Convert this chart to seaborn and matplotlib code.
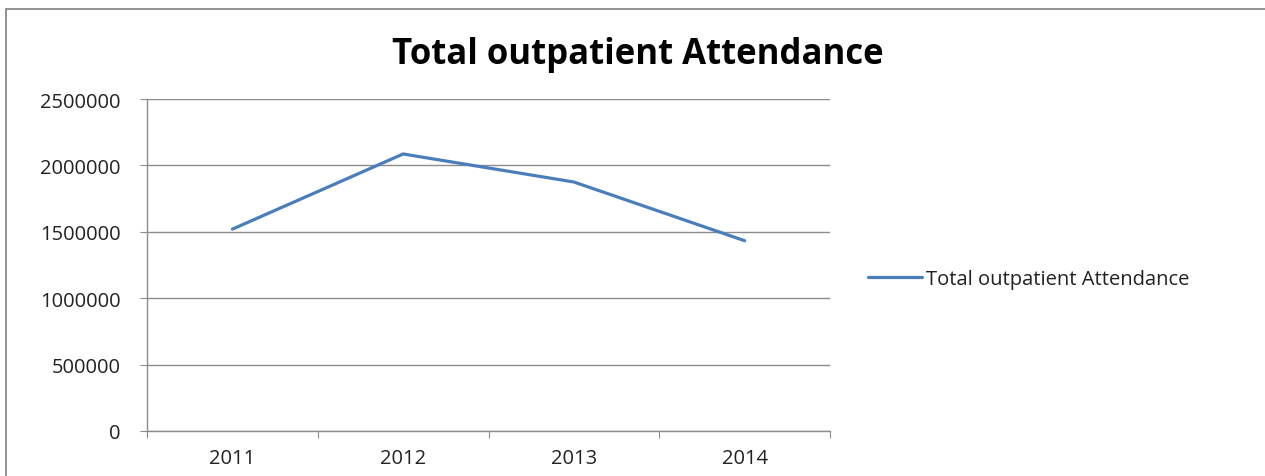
import matplotlib.pyplot as plt
import seaborn as sns
import pandas as pd
from matplotlib.patches import Rectangle

years = ['2011', '2012', '2013', '2014']
attendance = [1520000, 2086000, 1875000, 1433000]
yticks = [0, 500000, 1000000, 1500000, 2000000, 2500000]
series_name = 'Total outpatient Attendance'

df = pd.DataFrame({'year': years, 'value': attendance})

sns.set_style('white')
plt.rcParams['font.family'] = ['Open Sans', 'DejaVu Sans']

fig = plt.figure(figsize=(12.65, 4.77), dpi=100)
ax = fig.add_axes([147 / 1265, 1 - 432 / 477, (830 - 147) / 1265, (432 - 100) / 477])

sns.lineplot(data=df, x='year', y='value', ax=ax, color='#4A7EBB', linewidth=2.3,
             label=series_name, sort=False)

ax.set_xlim(-0.5, 3.5)
ax.set_ylim(0, 2500000)
ax.set_yticks(yticks)
ax.set_yticklabels([str(v) for v in yticks], fontsize=14.5, color='#222222')
ax.yaxis.grid(True, color='#8c8c8c', linewidth=1)
ax.set_axisbelow(True)

# category boundaries get the tick marks, labels sit in the middle
ax.set_xticks([-0.5, 0.5, 1.5, 2.5, 3.5])
ax.set_xticklabels([])
ax.set_xticks(range(len(years)), minor=True)
ax.set_xticklabels(years, minor=True, fontsize=14.5, color='#222222')
ax.tick_params(axis='x', which='major', length=5, color='#8c8c8c', direction='out', bottom=True)
ax.tick_params(axis='x', which='minor', length=0, pad=12)
ax.tick_params(axis='y', length=5, color='#8c8c8c', direction='out', left=True, pad=14)

for side in ['top', 'right']:
    ax.spines[side].set_visible(False)
for side in ['left', 'bottom']:
    ax.spines[side].set_color('#8c8c8c')
    ax.spines[side].set_linewidth(1)

ax.set_xlabel('')
ax.set_ylabel('')

leg = ax.legend(loc='center left', bbox_to_anchor=(868 / 1265, 1 - 280 / 477),
                bbox_transform=fig.transFigure, frameon=False, fontsize=14.5,
                handlelength=2.7, handletextpad=0.2, borderaxespad=0, borderpad=0)
for t in leg.get_texts():
    t.set_color('#222222')

fig.text(638 / 1265, 1 - 55 / 477, 'Total outpatient Attendance', ha='center', va='center',
         fontsize=25, fontweight='bold', color='black')

fig.patches.append(Rectangle((6 / 1265, -0.05), 1.1, 1 - 10 / 477 + 0.05, transform=fig.transFigure,
                             fill=False, edgecolor='#7f7f7f', linewidth=1.2))

fig.savefig('out.png', dpi=100)
